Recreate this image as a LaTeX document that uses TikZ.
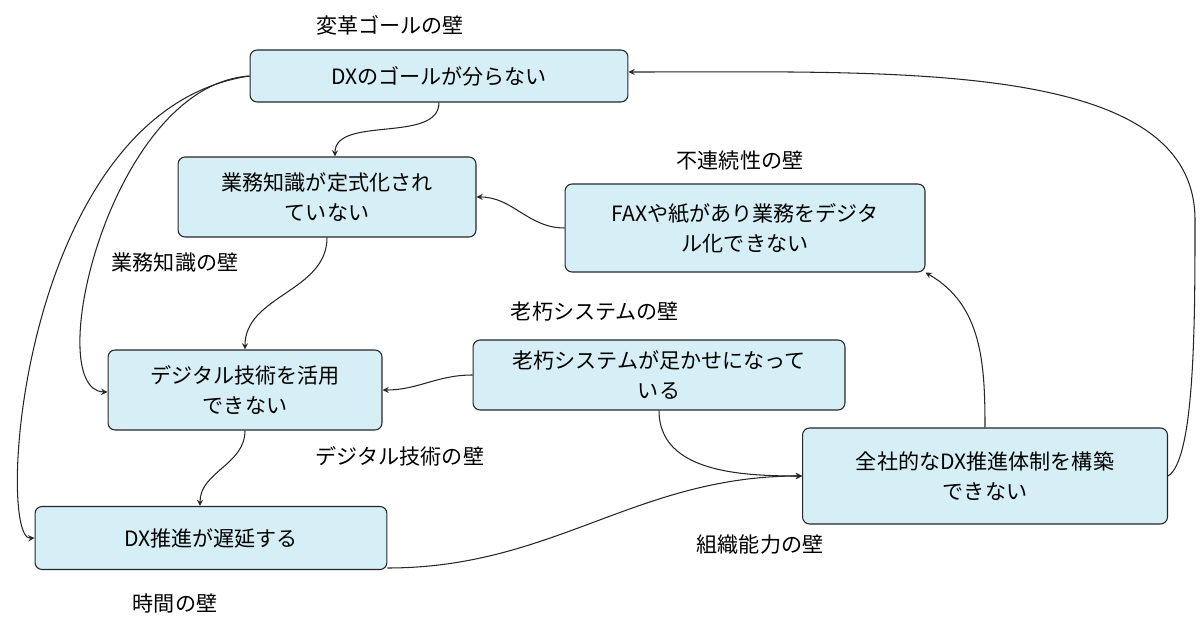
\documentclass[tikz,border=0pt]{standalone}
\usepackage{fontspec}
\setmainfont{Noto Sans CJK JP}
\usetikzlibrary{positioning}
\definecolor{boxfill}{HTML}{D6EEF5}
\tikzset{
  box/.style={rectangle, draw=black!85, fill=boxfill, line width=0.6pt, rounded corners=4pt, align=center, font=\fontsize{12}{17}\selectfont},
  wall/.style={font=\fontsize{12}{15}\selectfont},
  link/.style={->, >=stealth, line width=0.6pt, black!85}
}
\begin{document}
\begin{tikzpicture}[x=0.02cm, y=-0.02cm]
  \useasboundingbox (0,0) rectangle (1200,631);
  % Nodes
  \node (goal) [box, minimum width=7.56cm, minimum height=1.04cm] at (439,76) {DXのゴールが分らない};
  \node (know) [box, minimum width=5.96cm, minimum height=1.6cm] at (327,197) {業務知識が定式化され\\ていない};
  \node (fax) [box, minimum width=7.2cm, minimum height=1.76cm] at (745,228) {FAXや紙があり業務をデジタ\\ル化できない};
  \node (tech) [box, minimum width=5.48cm, minimum height=1.6cm] at (245,390) {デジタル技術を活用\\できない};
  \node (old) [box, minimum width=7.44cm, minimum height=1.4cm] at (659,375) {老朽システムが足かせになって\\いる};
  \node (org) [box, minimum width=7.3cm, minimum height=1.92cm] at (985,476) {全社的なDX推進体制を構築\\できない};
  \node (delay) [box, minimum width=7.04cm, minimum height=1.26cm] at (211,538) {DX推進が遅延する};
  % Wall labels
  \node (w1) [wall] at (390,25) {変革ゴールの壁};
  \node (w2) [wall] at (740,160) {不連続性の壁};
  \node (w3) [wall] at (175,263) {業務知識の壁};
  \node (w4) [wall] at (595,312) {老朽システムの壁};
  \node (w5) [wall] at (400,456) {デジタル技術の壁};
  \node (w6) [wall] at (760,545) {組織能力の壁};
  \node (w7) [wall] at (175,603) {時間の壁};
  \coordinate (bend) at (1195,220);
  % Arrows
  \draw[link] (goal.south) to[out=-90, in=90, looseness=0.9] ([xshift=0.16cm]know.north);
  \draw[link] (goal.west) .. controls (110,85) and (40,390) .. ([yshift=-0.04cm]tech.west);
  \draw[link] (goal.west) .. controls (20,110) and (-5,540) .. (delay.west);
  \draw[link] (know.south) to[out=-90, in=90] (tech.north);
  \draw[link] (fax.west) to[out=180, in=0] (know.east);
  \draw[link] (old.west) to[out=180, in=0] (tech.east);
  \draw[link] (tech.south) to[out=-90, in=90] ([xshift=-0.22cm]delay.north);
  \draw[link] (old.south) to[out=-90, in=180] (org.west);
  \draw[link] ([yshift=-0.6cm]delay.east) to[out=0, in=180] (org.west);
  \draw[link] (org.north) to[out=90, in=-30] (fax.south east);
  \draw[link] (org.east) .. controls (1195,460) and (1195,320) .. (bend)
    .. controls (1195,60) and (900,72) .. ([yshift=0.08cm]goal.east);
\end{tikzpicture}
\end{document}
